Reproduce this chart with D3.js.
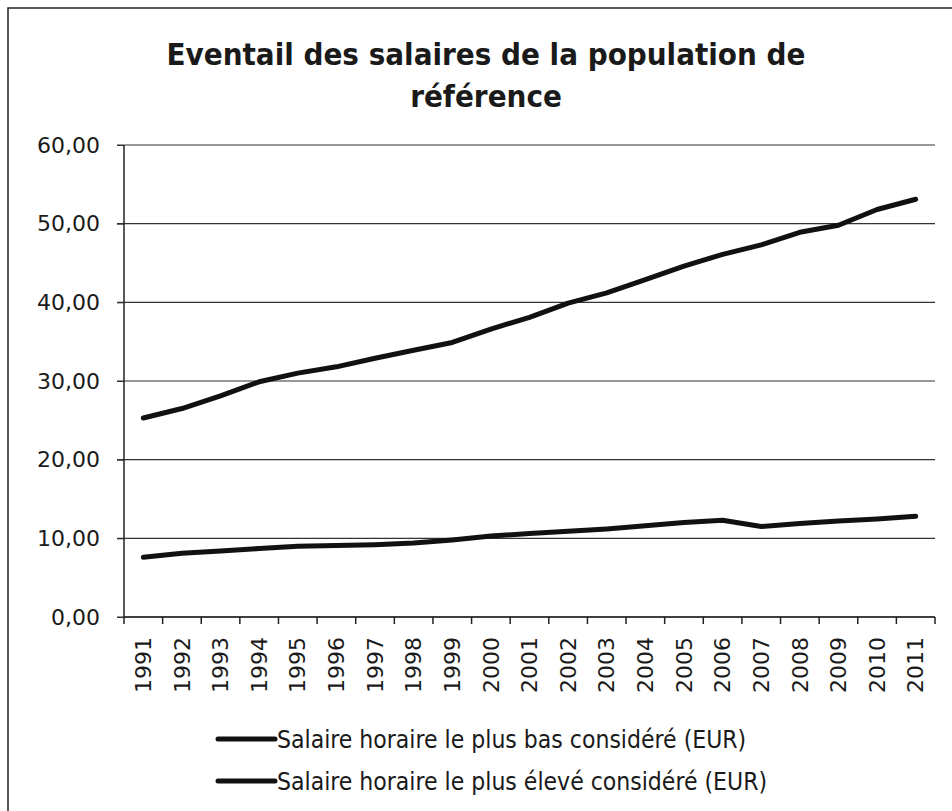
<!DOCTYPE html>
<html>
<head>
<meta charset="utf-8">
<script src="https://cdn.jsdelivr.net/npm/d3@7"></script>
<style>
  body { margin: 0; background: #fff; }
  text { fill: #1a1a1a; }
</style>
</head>
<body>
<svg width="952" height="811"></svg>
<script>
var years = ["1991", "1992", "1993", "1994", "1995", "1996", "1997", "1998", "1999", "2000",
    "2001", "2002", "2003", "2004", "2005", "2006", "2007", "2008", "2009", "2010", "2011"];

var salaireBas = [7.6, 8.1, 8.4, 8.7, 9.0, 9.1, 9.2, 9.4, 9.8, 10.3,
    10.6, 10.9, 11.2, 11.6, 12.0, 12.3, 11.5, 11.9, 12.2, 12.45, 12.8];

var salaireHaut = [25.3, 26.5, 28.1, 29.9, 31.0, 31.8, 32.9, 33.9, 34.9, 36.6,
    38.1, 39.9, 41.2, 42.9, 44.6, 46.1, 47.3, 48.9, 49.8, 51.8, 53.1];

var seriesNames = ["Salaire horaire le plus bas considéré (EUR)",
    "Salaire horaire le plus élevé considéré (EUR)"];

var yTicks = [0, 10, 20, 30, 40, 50, 60];

var titleLines = ["Eventail des salaires de la population de", "référence"];

var svg = d3.select("svg"),
    margin = { top: 145, right: 17, bottom: 194, left: 124 },
    width = +svg.attr("width") - margin.left - margin.right,
    height = +svg.attr("height") - margin.top - margin.bottom;

var fr = d3.formatLocale({ decimal: ",", thousands: " ", grouping: [3], currency: ["", " €"] });
var fmt = fr.format(".2f");

var tickFont = "'DejaVu Sans', sans-serif";
var narrowFont = "'DejaVu Sans Condensed', sans-serif";

// frame around the whole chart (only top and left edges fall inside the picture)
svg.append("rect")
    .attr("x", 8)
    .attr("y", 8)
    .attr("width", 1000)
    .attr("height", 900)
    .style("fill", "none")
    .style("stroke", "#222")
    .style("stroke-width", 1.5);

svg.append("g")
    .selectAll("text")
    .data(titleLines)
    .enter().append("text")
    .attr("x", 486)
    .attr("y", function(d, i) { return 65 + i * 42; })
    .attr("text-anchor", "middle")
    .style("font-family", narrowFont)
    .style("font-weight", "bold")
    .style("font-size", "31px")
    .text(function(d) { return d; });

var x = d3.scaleBand().domain(years).range([0, width]),
    y = d3.scaleLinear().domain([0, 60]).range([height, 0]);

var focus = svg.append("g")
    .attr("transform", "translate(" + margin.left + "," + margin.top + ")");

// horizontal gridlines
focus.append("g")
    .selectAll("line")
    .data(yTicks)
    .enter().append("line")
    .attr("x1", -7)
    .attr("x2", width)
    .attr("y1", function(d) { return y(d); })
    .attr("y2", function(d) { return y(d); })
    .style("stroke", "#333")
    .style("stroke-width", 1.2);

// y axis
var yAxis = d3.axisLeft(y).tickValues(yTicks).tickFormat(fmt).tickSize(7).tickPadding(17);
var gy = focus.append("g").call(yAxis);
gy.select(".domain").remove();
gy.selectAll("line").style("stroke", "#333");
gy.selectAll("text")
    .style("font-family", tickFont)
    .style("font-size", "22px")
    .style("fill", "#1a1a1a");
focus.append("line")
    .attr("x1", 0).attr("x2", 0)
    .attr("y1", 0).attr("y2", height)
    .style("stroke", "#222")
    .style("stroke-width", 1.5);

// x axis: tick marks at band boundaries, labels at band centers
var gx = focus.append("g").attr("transform", "translate(0," + height + ")");
gx.append("line")
    .attr("x1", 0).attr("x2", width)
    .style("stroke", "#222")
    .style("stroke-width", 1.5);
gx.selectAll(".tk")
    .data(years.concat(["end"]))
    .enter().append("line")
    .attr("class", "tk")
    .attr("x1", function(d) { return d === "end" ? width : x(d); })
    .attr("x2", function(d) { return d === "end" ? width : x(d); })
    .attr("y1", 0)
    .attr("y2", 7)
    .style("stroke", "#222")
    .style("stroke-width", 1.5);
gx.selectAll(".lbl")
    .data(years)
    .enter().append("text")
    .attr("class", "lbl")
    .attr("transform", function(d) {
        return "translate(" + (x(d) + x.bandwidth() / 2) + ",20) rotate(-90)";
    })
    .attr("dy", "0.35em")
    .attr("text-anchor", "end")
    .style("font-family", tickFont)
    .style("font-size", "22px")
    .text(function(d) { return d; });

// series lines
var line = d3.line()
    .x(function(d, i) { return x(years[i]) + x.bandwidth() / 2; })
    .y(function(d) { return y(d); });

[salaireBas, salaireHaut].forEach(function(values) {
    focus.append("path")
        .datum(values)
        .style("fill", "none")
        .style("stroke", "#111")
        .style("stroke-width", 5)
        .style("stroke-linecap", "round")
        .style("stroke-linejoin", "round")
        .attr("d", line);
});

// legend
var legend = svg.append("g")
    .selectAll("g")
    .data(seriesNames)
    .enter().append("g")
    .attr("transform", function(d, i) { return "translate(218," + (739 + i * 42) + ")"; });
legend.append("line")
    .attr("x1", 0).attr("x2", 57)
    .style("stroke", "#111")
    .style("stroke-width", 5)
    .style("stroke-linecap", "round");
legend.append("text")
    .attr("x", 59)
    .attr("dy", "0.35em")
    .style("font-family", narrowFont)
    .style("font-size", "24.5px")
    .text(function(d) { return d; });
</script>
</body>
</html>
